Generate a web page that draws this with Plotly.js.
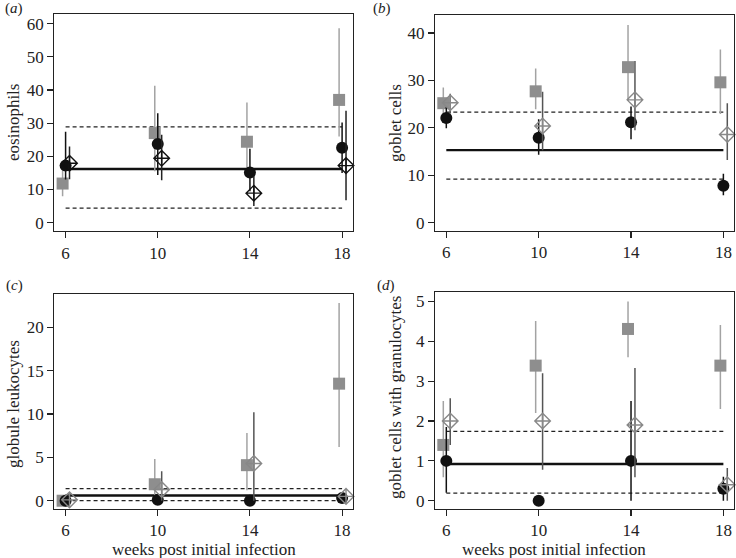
<!DOCTYPE html>
<html>
<head>
<meta charset="utf-8">
<script src="https://cdn.plot.ly/plotly-3.0.1.min.js"></script>
<style>html,body{margin:0;padding:0;background:#fff}#chart{width:736px;height:558px}</style>
</head>
<body>
<div id="chart"></div>
<script>
// ---- data ----
const weeks = [6, 10, 14, 18];
const xTickLabels = ['6', '10', '14', '18'];

// (a) eosinophils
const eosSq = [11.8, 27.0, 24.4, 37.0];
const eosSqLo = [8.0, 15.5, 16.5, 26.0];
const eosSqHi = [16.0, 41.3, 36.2, 58.6];
const eosCi = [17.2, 23.7, 15.1, 22.6];
const eosCiLo = [13.0, 14.4, 9.5, 15.0];
const eosCiHi = [27.4, 33.0, 22.3, 30.2];
const eosDi = [17.9, 19.4, 8.9, 17.2];
const eosDiLo = [13.1, 12.8, 5.0, 6.8];
const eosDiHi = [23.0, 26.5, 14.0, 33.7];
const eosMean = 16.2, eosUpper = 28.9, eosLower = 4.4;

// (b) goblet cells
const gobSq = [25.2, 27.7, 32.8, 29.6];
const gobSqLo = [22.5, 23.9, 26.0, 22.9];
const gobSqHi = [28.5, 32.5, 41.7, 36.5];
const gobCi = [22.1, 17.9, 21.2, 7.8];
const gobCiLo = [19.9, 14.3, 17.6, 5.8];
const gobCiHi = [24.4, 21.8, 24.5, 10.3];
const gobDi = [25.3, 20.4, 25.9, 18.6];
const gobDiLo = [23.0, 15.3, 19.5, 13.2];
const gobDiHi = [27.2, 27.6, 34.1, 25.2];
const gobMean = 15.3, gobUpper = 23.3, gobLower = 9.2;

// (c) globule leukocytes
const gloSq = [0.0, 1.9, 4.1, 13.5];
const gloSqLo = [0.0, 0.0, 1.2, 6.2];
const gloSqHi = [0.0, 4.8, 7.8, 22.8];
const gloCi = [0.0, 0.1, 0.0, 0.3];
const gloCiLo = [0.0, 0.1, 0.0, 0.3];
const gloCiHi = [0.0, 0.1, 0.0, 0.3];
const gloDi = [0.1, 1.3, 4.3, 0.5];
const gloDiLo = [0.0, 0.0, 0.0, 0.2];
const gloDiHi = [0.2, 3.4, 10.2, 0.8];
const gloMean = 0.6, gloUpper = 1.4, gloLower = 0.0;

// (d) goblet cells with granulocytes
const ggrSq = [1.4, 3.39, 4.31, 3.39];
const ggrSqLo = [0.59, 2.2, 3.6, 2.3];
const ggrSqHi = [2.5, 4.51, 5.0, 4.41];
const ggrCi = [1.0, 0.0, 1.0, 0.3];
const ggrCiLo = [0.2, 0.0, 0.0, 0.0];
const ggrCiHi = [1.85, 0.0, 2.5, 0.6];
const ggrDi = [2.0, 2.0, 1.9, 0.4];
const ggrDiLo = [1.4, 0.78, 0.59, 0.0];
const ggrDiHi = [2.57, 3.2, 3.33, 0.82];
const ggrMean = 0.92, ggrUpper = 1.74, ggrLower = 0.19;

const panelLabels = ['a', 'b', 'c', 'd'];
const yTitles = ['eosinophils', 'goblet cells', 'globule leukocytes', 'goblet cells with granulocytes'];
const xTitle = 'weeks post initial infection';

// ---- build ----
const W = 736, H = 558;
const FONT = 'Liberation Serif';
const TXT = '#222';
const sqOff = -0.13, diOff = 0.17;

const panels = [
  {ax: '', sq: [eosSq, eosSqLo, eosSqHi], ci: [eosCi, eosCiLo, eosCiHi], di: [eosDi, eosDiLo, eosDiHi],
   lines: [eosMean, eosUpper, eosLower], diColor: '#111', diBar: '#222',
   px: [54.3, 352.7], py: [14.3, 231], yr: [-2.5, 62.8], dtick: 10},
  {ax: '2', sq: [gobSq, gobSqLo, gobSqHi], ci: [gobCi, gobCiLo, gobCiHi], di: [gobDi, gobDiLo, gobDiHi],
   lines: [gobMean, gobUpper, gobLower], diColor: '#888', diBar: '#555',
   px: [435, 734], py: [14.7, 230.7], yr: [-1.69, 43.86], dtick: 10},
  {ax: '3', sq: [gloSq, gloSqLo, gloSqHi], ci: [gloCi, gloCiLo, gloCiHi], di: [gloDi, gloDiLo, gloDiHi],
   lines: [gloMean, gloUpper, gloLower], diColor: '#888', diBar: '#555',
   px: [54.3, 352.7], py: [294, 508.7], yr: [-0.92, 23.84], dtick: 5},
  {ax: '4', sq: [ggrSq, ggrSqLo, ggrSqHi], ci: [ggrCi, ggrCiLo, ggrCiHi], di: [ggrDi, ggrDiLo, ggrDiHi],
   lines: [ggrMean, ggrUpper, ggrLower], diColor: '#888', diBar: '#555',
   px: [435, 734], py: [292.3, 508.7], yr: [-0.2, 5.23], dtick: 1}
];

function errTrace(xs, s, xa, ya, symbol, color, lineColor, barColor, size, lw) {
  const [y, lo, hi] = s;
  return {
    type: 'scatter', mode: 'markers', x: xs, y: y, xaxis: xa, yaxis: ya,
    marker: {symbol: symbol, size: size, color: color, line: {color: lineColor, width: lw}},
    error_y: {type: 'data', symmetric: false,
      array: hi.map((h, i) => h - y[i]), arrayminus: lo.map((l, i) => y[i] - l),
      width: 0, thickness: 1.5, color: barColor},
    showlegend: false, hoverinfo: 'skip', cliponaxis: false
  };
}

const traces = [];
const layout = {
  width: W, height: H, margin: {l: 0, r: 0, t: 0, b: 0},
  paper_bgcolor: '#fff', plot_bgcolor: '#fff', showlegend: false,
  font: {family: FONT, color: TXT, size: 17},
  annotations: []
};

panels.forEach((p, k) => {
  const xa = 'x' + p.ax, ya = 'y' + p.ax;
  const x0 = weeks[0], x1 = weeks[weeks.length - 1];
  const [m, up, lo] = p.lines;
  traces.push({type: 'scatter', mode: 'lines', x: [x0, x1], y: [up, up], xaxis: xa, yaxis: ya,
    line: {color: '#222', width: 1.3, dash: '4px,3px'}, showlegend: false, hoverinfo: 'skip'});
  traces.push({type: 'scatter', mode: 'lines', x: [x0, x1], y: [lo, lo], xaxis: xa, yaxis: ya,
    line: {color: '#222', width: 1.3, dash: '4px,3px'}, showlegend: false, hoverinfo: 'skip'});
  traces.push({type: 'scatter', mode: 'lines', x: [x0, x1], y: [m, m], xaxis: xa, yaxis: ya,
    line: {color: '#111', width: 2.4}, showlegend: false, hoverinfo: 'skip'});
  traces.push(errTrace(weeks.map(w => w + sqOff), p.sq, xa, ya, 'square', '#8e8e8e', '#8e8e8e', '#a3a3a3', 12, 0));
  traces.push(errTrace(weeks, p.ci, xa, ya, 'circle', '#111', '#111', '#111', 12, 0));
  traces.push(errTrace(weeks.map(w => w + diOff), p.di, xa, ya, 'diamond-cross-open', p.diColor, p.diColor, p.diBar, 12, 1.4));

  const axCommon = {showgrid: false, zeroline: false, showline: true, mirror: true,
    linecolor: '#222', linewidth: 1.2, ticks: 'outside', ticklen: 6, tickwidth: 1.1, tickcolor: '#222',
    tickfont: {family: FONT, size: 17, color: TXT}};
  layout['xaxis' + p.ax] = Object.assign({}, axCommon, {
    domain: [p.px[0] / W, p.px[1] / W], anchor: ya, range: [5.51, 18.46],
    tickmode: 'array', tickvals: weeks, ticktext: xTickLabels});
  layout['yaxis' + p.ax] = Object.assign({}, axCommon, {
    domain: [1 - p.py[1] / H, 1 - p.py[0] / H], anchor: xa, range: p.yr,
    tickmode: 'linear', tick0: 0, dtick: p.dtick});
});

const labelPos = [[14, 8], [382, 8], [14, 285], [386, 285]];
panelLabels.forEach((l, k) => {
  layout.annotations.push({text: '(<i>' + l + '</i>)', xref: 'paper', yref: 'paper',
    x: labelPos[k][0] / W, y: 1 - labelPos[k][1] / H, showarrow: false,
    font: {family: FONT, size: 15, color: TXT}, xanchor: 'center', yanchor: 'middle'});
});
const yTitlePos = [[13, 123], [395, 123], [13, 404], [395, 398]];
yTitles.forEach((t, k) => {
  layout.annotations.push({text: t, xref: 'paper', yref: 'paper', textangle: -90,
    x: yTitlePos[k][0] / W, y: 1 - yTitlePos[k][1] / H, showarrow: false,
    font: {family: FONT, size: 17, color: TXT}, xanchor: 'center', yanchor: 'middle'});
});
[[204, 549], [554, 549]].forEach(pos => {
  layout.annotations.push({text: xTitle, xref: 'paper', yref: 'paper',
    x: pos[0] / W, y: 1 - pos[1] / H, showarrow: false,
    font: {family: FONT, size: 17, color: TXT}, xanchor: 'center', yanchor: 'middle'});
});

Plotly.newPlot('chart', traces, layout, {displayModeBar: false, staticPlot: true});
</script>
</body>
</html>
